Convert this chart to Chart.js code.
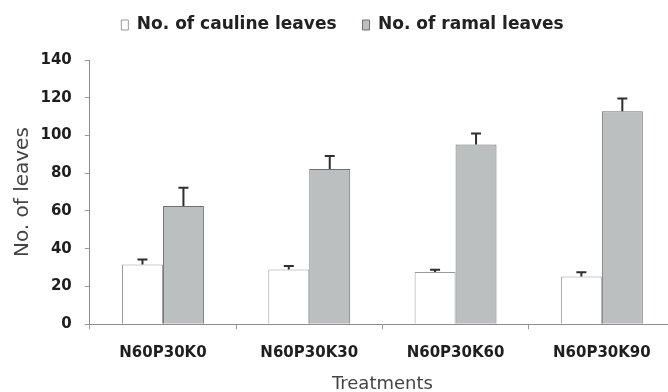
<!DOCTYPE html>
<html>
<head>
<meta charset="utf-8">
<script src="https://cdn.jsdelivr.net/npm/chart.js@4/dist/chart.umd.min.js"></script>
<style>
  html, body { margin: 0; padding: 0; background: #fff; overflow: hidden; }
  #wrap { width: 676px; height: 392px; }
</style>
</head>
<body>
<div id="wrap"><canvas id="c" width="676" height="392"></canvas></div>
<script>
const categories = ['N60P30K0', 'N60P30K30', 'N60P30K60', 'N60P30K90'];
const seriesNames = ['No. of cauline leaves', 'No. of ramal leaves'];
const caulineLeaves = [31.7, 29.0, 27.7, 25.3];
const caulineErrors = [2.6, 1.9, 1.2, 2.2];
const ramalLeaves = [62.6, 82.2, 95.2, 112.8];
const ramalErrors = [9.7, 6.9, 5.8, 6.8];
const yTicks = [0, 20, 40, 60, 80, 100, 120, 140];

const errorBars = {
  id: 'errorBars',
  afterDatasetsDraw(chart) {
    const ctx = chart.ctx;
    const yScale = chart.scales.y;
    chart.data.datasets.forEach((ds, i) => {
      const meta = chart.getDatasetMeta(i);
      meta.data.forEach((bar, j) => {
        const top = yScale.getPixelForValue(ds.data[j] + ds.errors[j]);
        ctx.save();
        ctx.strokeStyle = '#2f2f2f';
        ctx.lineWidth = 2;
        ctx.beginPath();
        ctx.moveTo(bar.x, bar.y);
        ctx.lineTo(bar.x, top);
        ctx.moveTo(bar.x - 5, top);
        ctx.lineTo(bar.x + 5, top);
        ctx.stroke();
        ctx.restore();
      });
    });
  }
};

const legendGap = {
  id: 'legendGap',
  beforeInit(chart) {
    const lg = chart.legend;
    const f = lg.fit;
    lg.fit = function () { f.call(this); this.height = 69.5; };
  }
};

new Chart(document.getElementById('c'), {
  type: 'bar',
  data: {
    labels: categories,
    datasets: [
      { label: seriesNames[0], data: caulineLeaves, errors: caulineErrors,
        backgroundColor: '#ffffff', borderColor: '#9a9a9a', borderWidth: 1,
        categoryPercentage: 0.56, barPercentage: 1.0 },
      { label: seriesNames[1], data: ramalLeaves, errors: ramalErrors,
        backgroundColor: '#bcbfbf', borderColor: '#6f6f6f', borderWidth: 1,
        categoryPercentage: 0.56, barPercentage: 1.0 }
    ]
  },
  options: {
    responsive: false,
    animation: false,
    layout: { padding: { left: 10, right: 1, top: -9.5, bottom: -3 } },
    plugins: {
      tooltip: { enabled: false },
      legend: {
        position: 'top',
        labels: {
          boxWidth: 7, boxHeight: 10, padding: 26, color: '#222',
          font: { family: 'DejaVu Sans', weight: 'bold', size: 17 }
        }
      }
    },
    scales: {
      x: {
        grid: { display: true, drawOnChartArea: false, drawTicks: true, tickLength: 5, color: '#9a9a9a' },
        border: { display: true, color: '#8c8c8c', width: 1 },
        ticks: { color: '#1e1e1e', padding: 15, maxRotation: 0,
                 font: { family: 'DejaVu Sans', weight: 'bold', size: 15 } },
        title: { display: true, text: 'Treatments', color: '#444',
                 padding: { top: -3.8, bottom: 0 },
                 font: { family: 'DejaVu Sans', size: 18 } }
      },
      y: {
        min: 0, max: 140,
        afterBuildTicks(scale) { scale.ticks = yTicks.map(v => ({ value: v })); },
        grid: { display: true, drawOnChartArea: false, drawTicks: true, tickLength: 5, color: '#9a9a9a' },
        border: { display: true, color: '#8c8c8c', width: 1 },
        ticks: { color: '#1e1e1e', padding: 13,
                 font: { family: 'DejaVu Sans', weight: 'bold', size: 15 } },
        title: { display: true, text: 'No. of leaves', color: '#444',
                 padding: { top: 0.5, bottom: -7 },
                 font: { family: 'DejaVu Sans', size: 20 } }
      }
    }
  },
  plugins: [errorBars, legendGap]
});
</script>
</body>
</html>
